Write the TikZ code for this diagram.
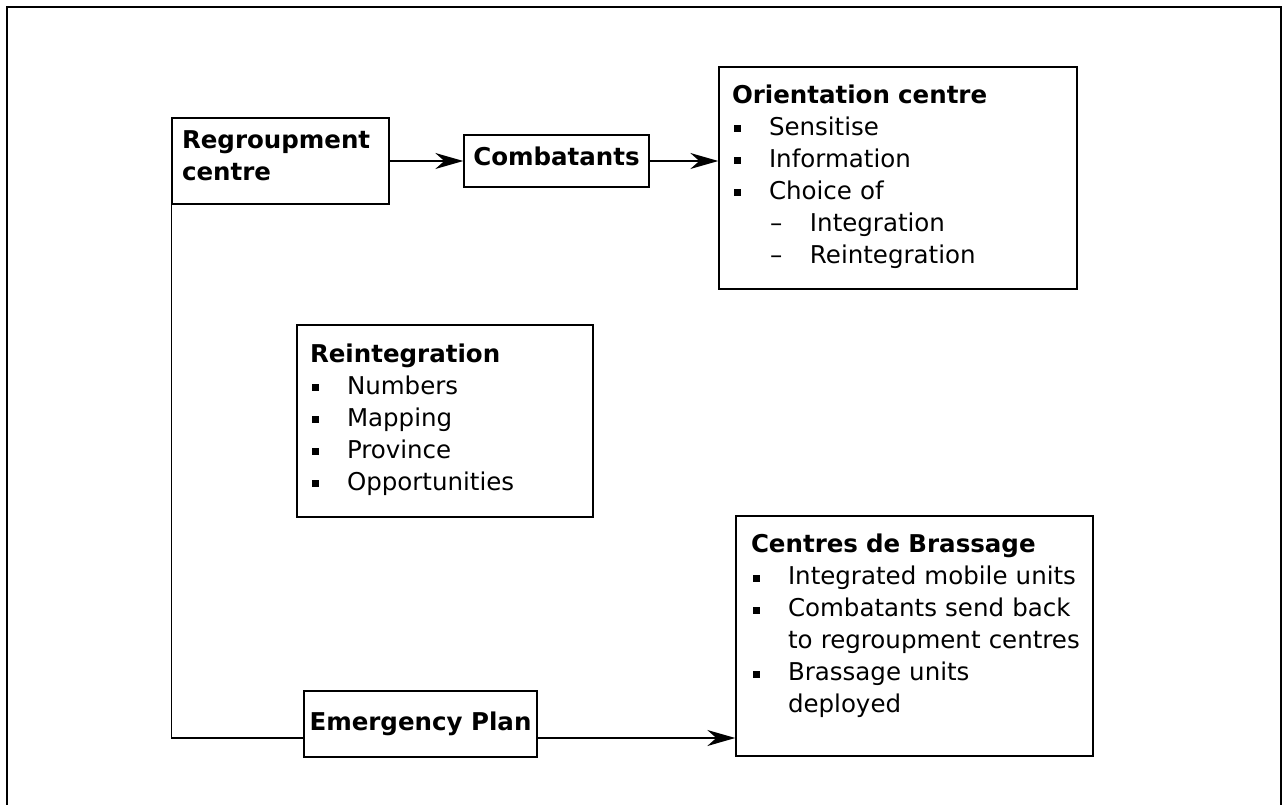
\documentclass[tikz,border=0pt]{standalone}
\usepackage{fontspec}
\setmainfont{DejaVu Sans}
\usetikzlibrary{arrows.meta}
\newcommand{\blt}[1]{\mbox{\hspace*{2pt}\makebox[35pt][l]{\rule[3pt]{7pt}{7pt}}#1}}
\newcommand{\dsh}[1]{\mbox{\hspace*{38pt}\makebox[40pt][l]{\textendash}#1}}
\newcommand{\cnt}[1]{\mbox{\hspace*{37pt}#1}}

\begin{document}
\begin{tikzpicture}[x=1pt,y=-1pt,
  box/.style={draw,rectangle,line width=1.4pt,align=left,inner ysep=0pt,
    font=\fontsize{24.5}{32}\selectfont},
  conn/.style={line width=1.4pt},
  arr/.style={conn,-{Stealth[length=28pt,width=16pt,inset=9pt]}}]
\useasboundingbox (0,0) rectangle (1288,805);
\draw [line width=2.2pt] (7,806) -- (7,7) -- (1281,7) -- (1281,806);

\node [box,inner xsep=10pt,text width=197pt,minimum height=86pt] (reg) at (280.5,161)
  {\textbf{Regroupment}\\\textbf{centre}\rule[-10pt]{0pt}{0pt}};
\node [box,inner xsep=0pt,minimum width=185pt,minimum height=52pt] (comb) at (556.5,161)
  {\textbf{Combatants}\rule[-10pt]{0pt}{0pt}};
\node [box,inner xsep=13pt,text width=332pt,minimum height=222pt] (orient) at (898,178)
  {\textbf{Orientation centre}\\
   \blt{Sensitise}\\
   \blt{Information}\\
   \blt{Choice of}\\
   \dsh{Integration}\\
   \dsh{Reintegration}\rule[-8pt]{0pt}{0pt}};
\node [box,inner xsep=13pt,text width=270pt,minimum height=192pt] (reint) at (445,421)
  {\textbf{Reintegration}\\
   \blt{Numbers}\\
   \blt{Mapping}\\
   \blt{Province}\\
   \blt{Opportunities}\rule[-8pt]{0pt}{0pt}};
\node [box,inner xsep=15pt,text width=327pt,minimum height=240pt] (brass) at (914.5,636)
  {\textbf{Centres de Brassage}\\
   \blt{Integrated mobile units}\\
   \blt{Combatants send back}\\
   \cnt{to regroupment centres}\\
   \blt{Brassage units}\\
   \cnt{deployed}\rule[-25pt]{0pt}{0pt}};
\node [box,inner xsep=0pt,minimum width=233pt,minimum height=66pt] (emerg) at (420.5,724)
  {\textbf{Emergency Plan}};

\coordinate (elbow) at (reg.south west |- 0,738);
\draw [arr] (reg.east) -- (comb.west);
\draw [arr] (comb.east) -- (comb.east -| orient.west);
\draw [conn] (reg.south west) -- (elbow) -- (elbow -| emerg.west);
\draw [arr] (elbow -| emerg.east) -- (elbow -| brass.west);
\end{tikzpicture}
\end{document}
